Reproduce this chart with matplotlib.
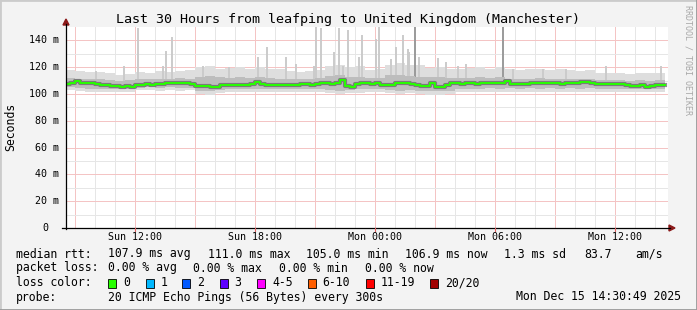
import numpy as np
import matplotlib
matplotlib.use('Agg')
import matplotlib.pyplot as plt
from matplotlib.patches import Rectangle, Polygon
from matplotlib.lines import Line2D
from matplotlib.transforms import blended_transform_factory

# median rtt (ms), one value every 15 minutes, Sun 08:45 .. Mon 14:30
median_ms = [
    107.6, 108.0, 110.0, 108.5, 108.0, 108.3, 107.5, 106.8, 106.5, 105.8,
    106.0, 105.5, 105.8, 105.5, 106.5, 106.8, 107.2, 106.8, 107.6, 107.5,
    108.0, 108.3, 108.3, 108.0, 108.3, 107.5, 105.8, 105.8, 106.0, 105.2,
    105.5, 107.0, 106.5, 106.8, 106.5, 106.8, 107.0, 107.5, 108.6, 107.5,
    106.5, 106.8, 107.0, 106.5, 106.8, 107.0, 106.8, 107.2, 107.5, 107.0,
    107.5, 108.0, 108.3, 107.6, 108.2, 110.5, 106.0, 105.5, 107.5, 108.0,
    108.0, 107.8, 108.2, 106.8, 106.5, 107.0, 108.0, 108.3, 108.0, 107.8,
    106.5, 106.0, 106.2, 108.2, 105.5, 105.3, 106.8, 108.5, 108.3, 107.8,
    108.0, 108.2, 107.8, 108.3, 108.0, 108.3, 108.0, 108.5, 109.5, 107.5,
    107.8, 107.6, 107.2, 108.0, 108.2, 108.3, 108.0, 108.2, 108.0, 107.8,
    108.3, 108.3, 108.5, 109.0, 108.8, 108.2, 107.8, 107.6, 107.2, 107.5,
    107.5, 107.2, 106.5, 105.8, 106.0, 106.5, 105.5, 106.0, 106.8, 107.0,
]

# smoke bands, one value per 30 minutes
smoke_hi = [
    118.0, 117.5, 116.5, 116.7, 115.5, 114.5, 115.0, 116.7, 116.0, 117.0,
    116.5, 117.0, 118.0, 120.0, 121.0, 119.0, 119.5, 120.0, 119.0, 120.0,
    119.0, 118.5, 117.0, 116.5, 117.0, 118.0, 121.0, 122.0, 120.0, 121.0,
    118.0, 118.5, 122.0, 123.0, 121.5, 122.0, 119.5, 120.0, 119.0, 119.0,
    119.5, 120.0, 119.0, 120.0, 118.5, 118.0, 118.5, 119.0, 118.0, 118.5,
    118.0, 117.5, 118.0, 116.0, 115.5, 116.0, 115.0, 116.0, 115.5, 116.0,
]
smoke_lo = [
    103.0, 102.5, 101.7, 101.5, 101.7, 101.7, 101.5, 102.8, 103.0, 102.5,
    103.0, 102.5, 102.8, 100.0, 99.5, 100.5, 101.5, 101.7, 101.3, 101.5,
    101.7, 101.5, 101.5, 101.7, 101.5, 101.3, 100.5, 100.0, 100.5, 101.0,
    101.5, 101.7, 100.5, 100.0, 100.5, 100.2, 99.5, 99.3, 100.0, 101.5,
    101.7, 101.5, 101.7, 101.3, 101.7, 101.5, 101.7, 101.5, 101.7, 101.5,
    101.7, 101.5, 101.7, 101.7, 101.5, 101.7, 101.7, 101.5, 101.7, 101.5,
]
inner_hi = [
    112.0, 111.5, 111.0, 111.5, 110.5, 110.0, 110.5, 111.0, 111.5, 111.0,
    111.5, 112.0, 111.5, 113.0, 113.5, 112.5, 112.0, 112.5, 112.0, 112.5,
    112.0, 111.5, 111.0, 111.0, 111.5, 112.0, 113.5, 114.0, 113.0, 113.0,
    112.0, 112.0, 114.0, 114.5, 113.5, 113.0, 112.5, 112.5, 112.0, 112.0,
    112.0, 112.5, 112.0, 112.5, 111.5, 111.5, 111.5, 112.0, 111.5, 111.5,
    111.5, 111.0, 111.5, 110.5, 110.5, 110.5, 110.0, 110.5, 110.0, 110.5,
]
inner_lo = [
    105.0, 104.5, 104.0, 103.5, 103.5, 103.5, 103.5, 104.5, 105.0, 104.5,
    105.0, 104.5, 104.5, 102.5, 102.0, 103.0, 103.5, 104.0, 103.5, 103.5,
    104.0, 103.5, 103.5, 104.0, 103.5, 103.5, 103.0, 102.5, 103.0, 103.5,
    104.0, 104.0, 103.0, 102.5, 103.0, 102.5, 102.0, 102.0, 102.5, 104.0,
    104.0, 104.0, 104.5, 104.0, 104.5, 104.0, 104.5, 104.0, 104.5, 104.0,
    104.5, 104.0, 104.5, 104.0, 103.5, 104.0, 104.0, 103.5, 103.5, 104.0,
]

# single outliers: time (hours since Sun 00:00) and top (ms)
spike_hour = [10.05, 11.47, 12.13, 13.38, 13.55, 13.85, 15.38, 16.72, 18.13, 18.6,
              19.55, 20.05, 20.97, 21.05, 21.3, 21.97, 22.22, 22.42, 22.63, 23.22,
              23.35, 24.05, 24.18, 24.8, 25.05, 25.42, 25.63, 25.72, 26.02, 26.22,
              27.13, 27.55, 28.13, 28.55, 30.42, 30.88, 32.38, 33.55, 35.55, 38.3]
spike_top = [117.5, 121, 149, 121, 132, 142.5, 121, 120, 127.5, 135,
             127.5, 122.5, 121, 150, 149, 131, 149, 121, 148, 127.5,
             143.7, 141, 150, 126, 135, 143.7, 133.7, 131, 150, 127.5,
             126.7, 124, 121, 122.6, 150, 118.5, 118.5, 118.5, 121, 121]
dark_spikes = [26.02, 30.42]

y_ticks = [0, 20, 40, 60, 80, 100, 120, 140]
y_labels = ['0', '20 m', '40 m', '60 m', '80 m', '100 m', '120 m', '140 m']
x_ticks = [12, 18, 24, 30, 36]
x_labels = ['Sun 12:00', 'Sun 18:00', 'Mon 00:00', 'Mon 06:00', 'Mon 12:00']

loss_labels = ['0', '1', '2', '3', '4-5', '6-10', '11-19', '20/20']
loss_colors = ['#26ff00', '#00b8ff', '#0059ff', '#5e00ff', '#ff00ff', '#ff5e00', '#ff0000', '#a10000']

W, H = 697, 310
MONO = 'DejaVu Sans Mono'


def fx(x):
    return x / W


def fy(y):
    return 1 - y / H


fig = plt.figure(figsize=(W / 100, H / 100), dpi=100, facecolor='#f3f3f3')

# plot area in pixels
L, R, T, B = 66, 668, 27, 228
ax = fig.add_axes([fx(L), fy(B), (R - L) / W, (B - T) / H], facecolor='white')
t0 = 8.55
ax.set_xlim(t0, t0 + (R - L) / 20)
ax.set_ylim(0, (B - T) / 1.34)
for s in ax.spines.values():
    s.set_visible(False)
ax.set_xticks([])
ax.set_yticks([])

# grid (dotted in the original, drawn as pale solid lines)
for h in np.arange(9, 39):
    col = '#f4c4c4' if h % 3 == 0 else '#e6e6e6'
    ax.axvline(h, color=col, lw=0.72, zorder=1)
for v in np.arange(10, 150, 10):
    col = '#f4c4c4' if v % 20 == 0 else '#e6e6e6'
    ax.axhline(v, color=col, lw=0.72, zorder=1)

# smoke
edges = 8.5 + 0.5 * np.arange(len(smoke_hi) + 1)
ax.fill_between(edges, np.r_[smoke_lo[0], smoke_lo], np.r_[smoke_hi[0], smoke_hi],
                step='pre', color='#dedede', lw=0, zorder=2)
for h, top in zip(spike_hour, spike_top):
    col = '#9a9a9a' if h in dark_spikes else '#cbcbcb'
    ax.vlines(h, 110, top, color=col, lw=1.4, zorder=2)
ax.fill_between(edges, np.r_[inner_lo[0], inner_lo], np.r_[inner_hi[0], inner_hi],
                step='pre', color='#bdbdbd', lw=0, zorder=3)

# median
t = 8.5 + 0.25 * np.arange(len(median_ms) + 1)
med = np.r_[median_ms[0], median_ms]
ax.plot(t, med, drawstyle='steps-pre', color='#606060', lw=3.0, alpha=0.7, zorder=4)
ax.plot(t, med, drawstyle='steps-pre', color='#26ff00', lw=1.4, zorder=5)

# axes with arrows
fig.add_artist(Line2D([fx(L), fx(L)], [fy(B + 1), fy(24)], color='black', lw=0.9))
fig.add_artist(Line2D([fx(L - 4), fx(670)], [fy(B), fy(B)], color='black', lw=0.9))
fig.add_artist(Polygon([[fx(L - 3), fy(25)], [fx(L + 3), fy(25)], [fx(L), fy(19)]],
                       closed=True, color='#8b1a1a', transform=fig.transFigure))
fig.add_artist(Polygon([[fx(669), fy(B - 3)], [fx(669), fy(B + 3)], [fx(675), fy(B)]],
                       closed=True, color='#8b1a1a', transform=fig.transFigure))

# tick labels
ytr = blended_transform_factory(fig.transFigure, ax.transData)
for v, lab in zip(y_ticks, y_labels):
    xr = fx(59) if v else fx(48)
    fig.text(xr, v, lab, transform=ytr, ha='right', va='center',
             family=MONO, fontsize=7.2, color='black')
xtr = blended_transform_factory(ax.transData, fig.transFigure)
for h, lab in zip(x_ticks, x_labels):
    fig.text(h, fy(237), lab, transform=xtr, ha='center', va='center',
             family=MONO, fontsize=7.2, color='black')
    fig.add_artist(Line2D([h, h], [fy(B), fy(B + 3)], transform=xtr, color='#e06060', lw=0.8))

fig.text(fx(348), fy(19), 'Last 30 Hours from leafping to United Kingdom (Manchester)',
         ha='center', va='center', family=MONO, fontsize=9.6)
fig.text(fx(11), fy(127), 'Seconds', rotation=90, ha='center', va='center',
         family=MONO, fontsize=8.3)
fig.text(fx(688), fy(60), 'RRDTOOL / TOBI OETIKER', rotation=270, ha='center', va='center',
         family=MONO, fontsize=6, color='#a8a8a8')

# legend
fs = 8.3
rows = [
    (254, [(16, 'median rtt:'), (107.6, '107.9 ms avg'), (207.6, '111.0 ms max'),
           (306.5, '105.0 ms min'), (405, '106.9 ms now'), (504, '1.3 ms sd'),
           (584, '83.7'), (635.6, 'am/s')]),
    (268, [(16, 'packet loss:'), (107.6, '0.00 % avg'), (193.3, '0.00 % max'),
           (279, '0.00 % min'), (365, '0.00 % now')]),
    (283, [(16, 'loss color:')]),
    (297, [(16, 'probe:'), (107.6, '20 ICMP Echo Pings (56 Bytes) every 300s')]),
]
for y, items in rows:
    for x, s in items:
        fig.text(fx(x), fy(y), s, ha='left', va='center', family=MONO, fontsize=fs)
fig.text(fx(681), fy(297), 'Mon Dec 15 14:30:49 2025', ha='right', va='center',
         family=MONO, fontsize=fs)

box_x = [108, 146, 182, 219.5, 257, 307.5, 366, 430]
for bx, col, lab in zip(box_x, loss_colors, loss_labels):
    fig.add_artist(Rectangle((fx(bx), fy(287.5)), 8 / W, 9 / H, facecolor=col,
                             edgecolor='black', lw=0.6, transform=fig.transFigure))
    fig.text(fx(bx + 15), fy(283), lab, ha='left', va='center', family=MONO, fontsize=fs)

# frame
fig.add_artist(Line2D([0, 0, 1], [0, 1, 1], color='#cbcbcb', lw=2))
fig.add_artist(Line2D([0, 1, 1], [0, 0, 1], color='#999999', lw=2))

fig.savefig('out.png', dpi=100, facecolor=fig.get_facecolor())
